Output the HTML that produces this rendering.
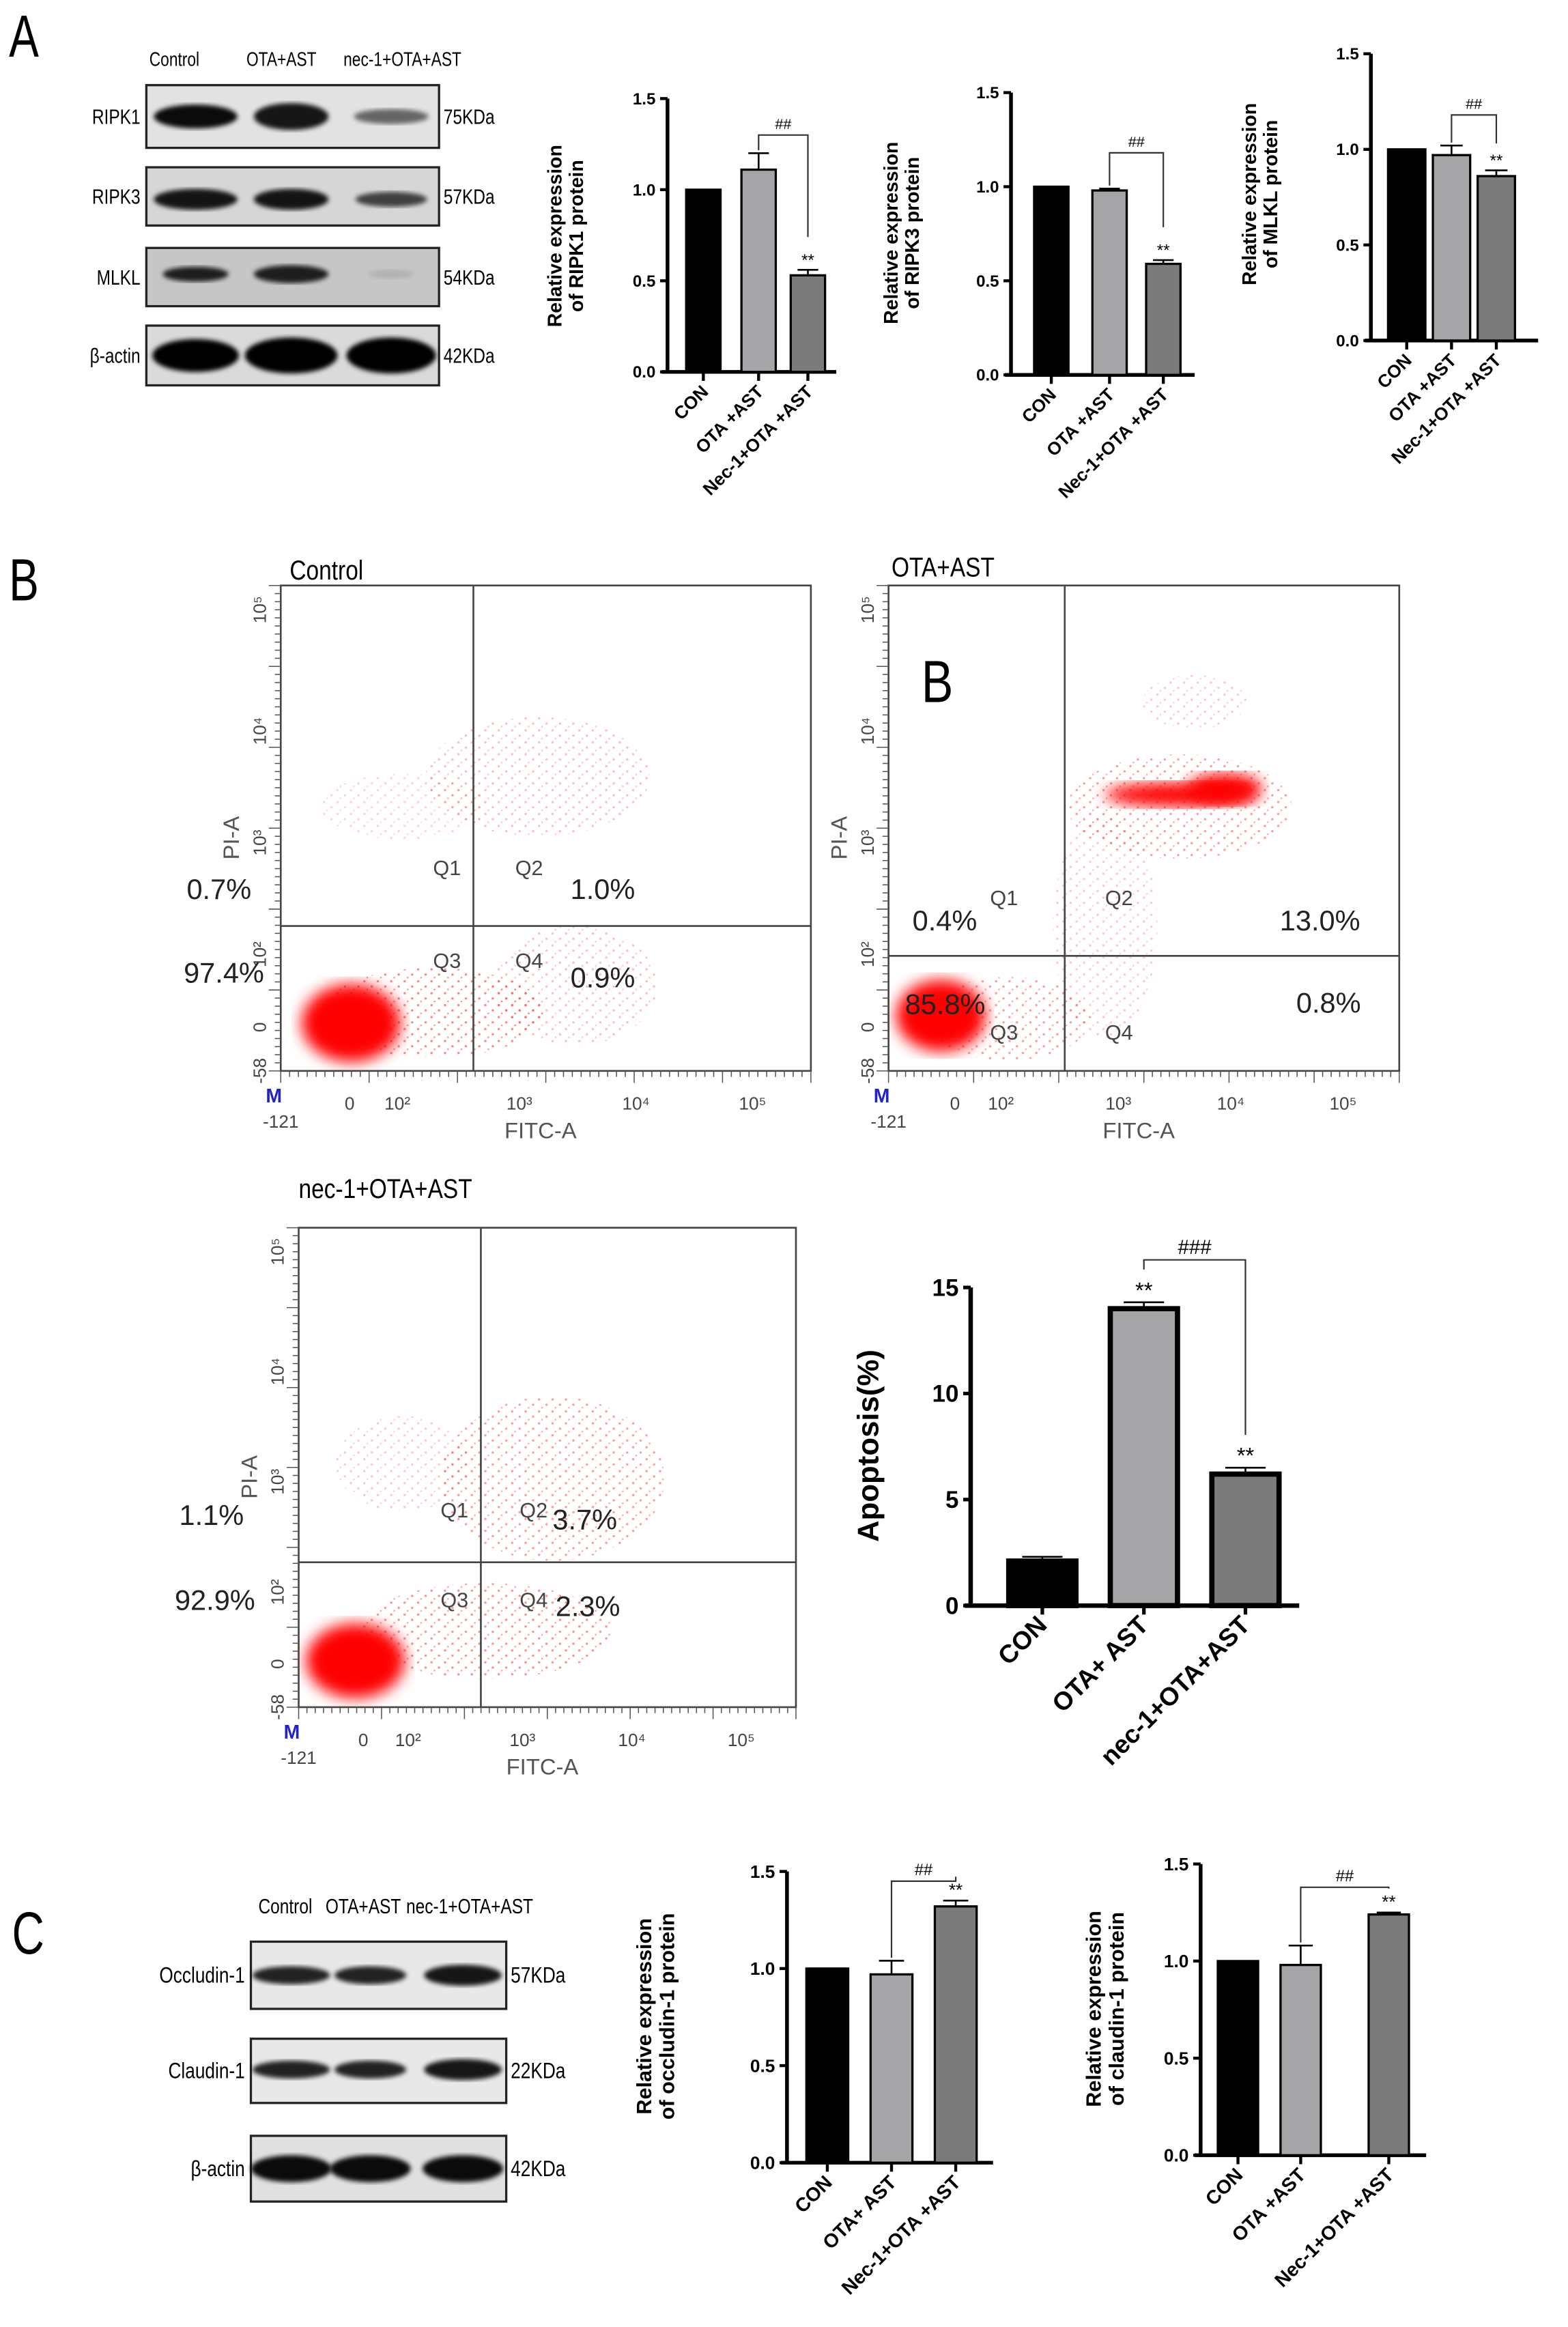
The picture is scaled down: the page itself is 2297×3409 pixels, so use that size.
<!DOCTYPE html>
<html><head><meta charset="utf-8">
<style>
html,body{margin:0;padding:0;background:#fff;}
svg{display:block;}
text{font-family:"Liberation Sans",sans-serif;}
</style></head>
<body>
<svg id="fig" xmlns="http://www.w3.org/2000/svg" width="2297" height="3409" viewBox="0 0 1050 1558" preserveAspectRatio="none">
<defs>
<pattern id="dots" width="9" height="8" patternUnits="userSpaceOnUse">
<circle cx="1" cy="1" r="0.8" fill="#f22"/><circle cx="6" cy="4.5" r="0.8" fill="#f22"/><circle cx="3" cy="6.5" r="0.6" fill="#f44"/>
</pattern>
<filter id="blur1"><feGaussianBlur stdDeviation="5"/></filter>
<filter id="blur2"><feGaussianBlur stdDeviation="1.6"/></filter>
</defs>
<g id="root"></g>
</svg>
<script>
// ---------- data ----------
const catsA = ["CON", "OTA +AST", "Nec-1+OTA +AST"];
const ripk1Vals = [1.0, 1.11, 0.53];
const ripk1Errs = [0, 0.09, 0.03];
const ripk3Vals = [1.0, 0.98, 0.59];
const ripk3Errs = [0, 0.01, 0.02];
const mlklVals = [1.0, 0.97, 0.86];
const mlklErrs = [0, 0.05, 0.03];
const ticksA = [0, 0.5, 1.0, 1.5];
const tickLabelsA = ["0.0", "0.5", "1.0", "1.5"];
const catsApop = ["CON", "OTA+ AST", "nec-1+OTA+AST"];
const apopVals = [2.1, 14.0, 6.2];
const apopErrs = [0.2, 0.3, 0.3];
const ticksApop = [0, 5, 10, 15];
const tickLabelsApop = ["0", "5", "10", "15"];
const catsOcc = ["CON", "OTA+ AST", "Nec-1+OTA +AST"];
const occVals = [1.0, 0.97, 1.32];
const occErrs = [0, 0.07, 0.03];
const catsCla = ["CON", "OTA +AST", "Nec-1+OTA +AST"];
const claVals = [1.0, 0.98, 1.24];
const claErrs = [0, 0.1, 0.01];
const barColors = ["#000", "#a5a5a8", "#7b7b7b"];

const NS = "http://www.w3.org/2000/svg";
const root = document.getElementById("root");
function el(tag, attrs, parent, txt) {
  const e = document.createElementNS(NS, tag);
  for (const k in attrs) e.setAttribute(k, attrs[k]);
  if (txt !== undefined) e.textContent = txt;
  (parent || root).appendChild(e);
  return e;
}

// ---------- bar charts ----------
function barChart(o, cats, vals, errs, ticks, tickLabels) {
  const g = el("g", {});
  
  
  const y = v => o.y0 - v / o.max * (o.y0 - o.yTop);
  el("line", {x1: o.ax, y1: o.yTop, x2: o.ax, y2: o.y0, stroke: "#000", "stroke-width": o.lw}, g);
  el("line", {x1: o.ax - 4, y1: o.y0, x2: o.xEnd, y2: o.y0, stroke: "#000", "stroke-width": o.lw}, g);
  ticks.forEach((t, i) => {
    el("line", {x1: o.ax - 5, y1: y(t), x2: o.ax, y2: y(t), stroke: "#000", "stroke-width": o.lw * 0.8}, g);
    const tl = el("text", {x: o.ax - 8, y: y(t) + o.fs * 0.35, "font-size": o.fs, "font-weight": "bold", "text-anchor": "end"}, g, tickLabels[i]);
    
    
  });
  const tt = el("text", {transform: `translate(${o.titleX},${o.titleY}) rotate(-90)`, "font-size": o.tfs, "font-weight": "bold", "text-anchor": "middle"}, g);
  
  
  o.title.forEach((ln, i) => el("tspan", {x: 0, dy: i === 0 ? 0 : o.tfs * 1.1}, tt, ln));
  vals.forEach((v, i) => {
    const cx = o.cx[i];
    const r = el("rect", {x: cx - o.bw / 2, y: y(v), width: o.bw, height: o.y0 - y(v), fill: barColors[i], stroke: "#000", "stroke-width": o.bs}, g);
    
    
    if (errs[i] > 0) {
      el("line", {x1: cx, y1: y(v), x2: cx, y2: y(v + errs[i]), stroke: "#000", "stroke-width": 1.2}, g);
      el("line", {x1: cx - o.bw * 0.3, y1: y(v + errs[i]), x2: cx + o.bw * 0.3, y2: y(v + errs[i]), stroke: "#000", "stroke-width": 1.2}, g);
    }
    el("line", {x1: cx, y1: o.y0, x2: cx, y2: o.y0 + 6, stroke: "#000", "stroke-width": o.lw * 0.8}, g);
    const cl = el("text", {transform: `translate(${cx + 4},${o.y0 + 14}) rotate(-45)`, "font-size": o.cfs, "font-weight": "bold", "text-anchor": "end"}, g, cats[i]);
    
    
    if (o.stars[i]) {
      el("text", {x: cx, y: y(v + errs[i]) - 3, "font-size": o.sfs, "text-anchor": "middle"}, g, "**");
    }
  });
  const [a, b] = o.bracket;
  const ya = y(vals[a] + errs[a]) - o.bGap[0], yb = y(vals[b] + errs[b]) - o.bGap[1];
  const top = y(o.bTop);
  el("polyline", {points: `${o.cx[a]},${ya} ${o.cx[a]},${top} ${o.cx[b]},${top} ${o.cx[b]},${yb}`, fill: "none", stroke: "#333", "stroke-width": 1}, g);
  el("text", {x: (o.cx[a] + o.cx[b]) / 2, y: top - 4, "font-size": o.sfs * 0.9, "text-anchor": "middle"}, g, o.hash);
}

barChart({name: "ripk1-chart", ax: 447, y0: 249, yTop: 66, max: 1.5, xEnd: 560, cx: [471, 508, 541], bw: 23, lw: 2.5, bs: 1.5, fs: 11, tfs: 13, cfs: 12, sfs: 11,
  title: ["Relative expression", "of RIPK1 protein"], titleX: 376, titleY: 158, stars: [0, 0, 1], bracket: [1, 2], bTop: 1.3, bGap: [2, 22], hash: "##"},
  catsA, ripk1Vals, ripk1Errs, ticksA, tickLabelsA);
barChart({name: "ripk3-chart", ax: 677, y0: 251, yTop: 62, max: 1.5, xEnd: 800, cx: [704, 743, 779], bw: 23, lw: 2.5, bs: 1.5, fs: 11, tfs: 13, cfs: 12, sfs: 11,
  title: ["Relative expression", "of RIPK3 protein"], titleX: 601, titleY: 156, stars: [0, 0, 1], bracket: [1, 2], bTop: 1.18, bGap: [2, 22], hash: "##"},
  catsA, ripk3Vals, ripk3Errs, ticksA, tickLabelsA);
barChart({name: "mlkl-chart", ax: 918, y0: 228, yTop: 36, max: 1.5, xEnd: 1030, cx: [942, 972, 1002], bw: 25, lw: 2.5, bs: 1.5, fs: 11, tfs: 13, cfs: 12, sfs: 11,
  title: ["Relative expression", "of MLKL protein"], titleX: 841, titleY: 130, stars: [0, 0, 1], bracket: [1, 2], bTop: 1.18, bGap: [2, 18], hash: "##"},
  catsA, mlklVals, mlklErrs, ticksA, tickLabelsA);
barChart({name: "apoptosis-chart", ax: 650, y0: 1075, yTop: 862, max: 15, xEnd: 870, cx: [698, 766, 834], bw: 45, lw: 3, bs: 3.5, fs: 16, tfs: 20, cfs: 17, sfs: 15,
  title: ["Apoptosis(%)"], titleX: 588, titleY: 968, stars: [0, 1, 1], bracket: [1, 2], bTop: 16.3, bGap: [22, 22], hash: "###"},
  catsApop, apopVals, apopErrs, ticksApop, tickLabelsApop);
barChart({name: "occludin-chart", ax: 527, y0: 1448, yTop: 1253, max: 1.5, xEnd: 665, cx: [554, 597, 640], bw: 28, lw: 2.5, bs: 1.5, fs: 12, tfs: 14, cfs: 13, sfs: 12,
  title: ["Relative expression", "of occludin-1 protein"], titleX: 436, titleY: 1350, stars: [0, 0, 1], bracket: [1, 2], bTop: 1.45, bGap: [2, 16], hash: "##"},
  catsOcc, occVals, occErrs, ticksA, tickLabelsA);
barChart({name: "claudin-chart", ax: 804, y0: 1443, yTop: 1248, max: 1.5, xEnd: 955, cx: [829, 871, 930], bw: 27, lw: 2.5, bs: 1.5, fs: 12, tfs: 14, cfs: 13, sfs: 12,
  title: ["Relative expression", "of claudin-1 protein"], titleX: 737, titleY: 1345, stars: [0, 0, 1], bracket: [1, 2], bTop: 1.38, bGap: [2, 16], hash: "##"},
  catsCla, claVals, claErrs, ticksA, tickLabelsA);

// ---------- panel letters ----------
[["A", 6, 38], ["B", 6, 402], ["C", 8, 1308]].forEach(p => {
  const t = el("text", {x: p[1], y: p[2], "font-size": 40, transform: `translate(${p[1]},0) scale(0.75,1) translate(${-p[1]},0)`}, root, p[0]);
  
  
});

// ---------- western blots ----------
function blot(name, x, w, rows, header, hx, hy, fs, lanes) {
  const g = el("g", {});
  
  
  header.forEach((h, i) => el("text", {x: hx[i], y: hy, "font-size": fs, transform: `translate(${hx[i]},0) scale(0.8,1) translate(${-hx[i]},0)`}, g, h));
  rows.forEach(r => {
    el("rect", {x: x, y: r.y, width: w, height: r.h, fill: r.bg, stroke: "#222", "stroke-width": 1.5}, g);
    lanes.forEach((lx, i) => {
      el("ellipse", {cx: lx, cy: r.y + r.h * r.by, rx: r.rx[i], ry: r.ry[i], fill: "#000", opacity: r.op[i], filter: "url(#blur2)"}, g);
    });
    el("text", {x: x - 4, y: r.y + r.h / 2 + 5, "font-size": fs + 1, "text-anchor": "end", transform: `translate(${x - 4},0) scale(0.8,1) translate(${-(x - 4)},0)`}, g, r.label);
    el("text", {x: x + w + 3, y: r.y + r.h / 2 + 5, "font-size": fs + 1, transform: `translate(${x + w + 3},0) scale(0.8,1) translate(${-(x + w + 3)},0)`}, g, r.kda);
  });
}
blot("blot-panel-a", 98, 196, [
  {y: 57, h: 42, bg: "#e2e2e2", label: "RIPK1", kda: "75KDa", by: 0.5, rx: [28, 25, 25], ry: [8, 9, 5], op: [0.95, 0.9, 0.55]},
  {y: 112, h: 39, bg: "#d6d6d6", label: "RIPK3", kda: "57KDa", by: 0.55, rx: [28, 25, 24], ry: [7, 7, 5], op: [0.9, 0.9, 0.7]},
  {y: 166, h: 39, bg: "#c6c6c6", label: "MLKL", kda: "54KDa", by: 0.45, rx: [22, 25, 15], ry: [5, 6, 3], op: [0.85, 0.85, 0.1]},
  {y: 218, h: 40, bg: "#dadada", label: "β-actin", kda: "42KDa", by: 0.5, rx: [29, 31, 30], ry: [11, 12, 12], op: [1, 1, 1]}
], ["Control", "OTA+AST", "nec-1+OTA+AST"], [100, 165, 230], 44, 13, [131, 195, 262]);
blot("blot-panel-c", 168, 171, [
  {y: 1300, h: 45, bg: "#e8e8e8", label: "Occludin-1", kda: "57KDa", by: 0.5, rx: [26, 24, 26], ry: [6, 6, 7], op: [0.85, 0.85, 0.9]},
  {y: 1365, h: 43, bg: "#e8e8e8", label: "Claudin-1", kda: "22KDa", by: 0.48, rx: [26, 24, 26], ry: [6, 6, 7], op: [0.85, 0.85, 0.9]},
  {y: 1430, h: 44, bg: "#e0e0e0", label: "β-actin", kda: "42KDa", by: 0.5, rx: [27, 27, 27], ry: [9, 9, 9], op: [0.95, 0.95, 0.95]}
], ["Control", "OTA+AST", "nec-1+OTA+AST"], [173, 218, 272], 1281, 14, [195, 248, 310]);

// ---------- flow cytometry ----------
const yTickLbl = ["10⁵", "10⁴", "10³", "10²", "0", "-58"];
const yTickFr = [0.05, 0.3, 0.53, 0.76, 0.91, 1.0];
const xTickLbl = ["-121", "0", "10²", "10³", "10⁴", "10⁵"];
const xTickFr = [0, 0.13, 0.22, 0.45, 0.67, 0.89];
function flow(o) {
  const g = el("g", {});
  
  
  const W = o.x2 - o.x1, H = o.y2 - o.y1;
  el("text", {x: o.tx, y: o.ty, "font-size": 18, transform: `translate(${o.tx},0) scale(0.85,1) translate(${-o.tx},0)`}, g, o.title);
  o.clouds.forEach(c => el("ellipse", {cx: c[0], cy: c[1], rx: c[2], ry: c[3], fill: "url(#dots)", opacity: c[4]}, g));
  o.blobs.forEach(c => el("ellipse", {cx: c[0], cy: c[1], rx: c[2], ry: c[3], fill: "#f00", filter: "url(#blur1)"}, g));
  el("rect", {x: o.x1, y: o.y1, width: W, height: H, fill: "none", stroke: "#444", "stroke-width": 1.2}, g);
  el("line", {x1: o.vx, y1: o.y1, x2: o.vx, y2: o.y2, stroke: "#444", "stroke-width": 1.2}, g);
  el("line", {x1: o.x1, y1: o.hy, x2: o.x2, y2: o.hy, stroke: "#444", "stroke-width": 1.2}, g);
  for (let i = 0; i <= 60; i++) {
    const yy = o.y1 + H * i / 60;
    el("line", {x1: o.x1 - (i % 10 === 0 ? 8 : 4), y1: yy, x2: o.x1, y2: yy, stroke: "#555", "stroke-width": 0.7}, g);
    const xx = o.x1 + W * i / 60;
    el("line", {x1: xx, y1: o.y2, x2: xx, y2: o.y2 + (i % 10 === 0 ? 8 : 4), stroke: "#555", "stroke-width": 0.7}, g);
  }
  yTickLbl.forEach((t, i) => el("text", {transform: `translate(${o.x1 - 10},${o.y1 + H * yTickFr[i]}) rotate(-90)`, "font-size": 12, "text-anchor": "middle", fill: "#444"}, g, t));
  xTickLbl.forEach((t, i) => el("text", {x: o.x1 + W * xTickFr[i], y: o.y2 + (i === 0 ? 38 : 26), "font-size": 12, "text-anchor": "middle", fill: "#444"}, g, t));
  el("text", {x: o.x1 + W * 0.49, y: o.y2 + 45, "font-size": 15, "text-anchor": "middle", fill: "#555"}, g, "FITC-A");
  el("text", {transform: `translate(${o.x1 - 28},${o.y1 + H * 0.52}) rotate(-90)`, "font-size": 15, "text-anchor": "middle", fill: "#555"}, g, "PI-A");
  el("text", {x: o.x1 - 10, y: o.y2 + 21, "font-size": 13, "font-weight": "bold", fill: "#22c"}, g, "M");
  o.q.forEach(q => el("text", {x: q[1], y: q[2], "font-size": 14, fill: "#444"}, g, q[0]));
  o.pct.forEach(p => {
    const t = el("text", {x: p[1], y: p[2], "font-size": 19, fill: "#222"}, g, p[0]);
    
    
  });
}
flow({name: "flow-control", x1: 188, y1: 392, x2: 543, y2: 717, vx: 317, hy: 620, title: "Control", tx: 194, ty: 388,
  clouds: [[360, 520, 75, 40, 0.3], [270, 540, 55, 22, 0.2], [290, 678, 75, 30, 0.55], [385, 660, 55, 40, 0.3]],
  blobs: [[235, 685, 33, 26]],
  q: [["Q1", 290, 586], ["Q2", 345, 586], ["Q3", 290, 648], ["Q4", 345, 648]],
  pct: [["0.7%", 125, 602], ["97.4%", 123, 658], ["1.0%", 382, 602], ["0.9%", 382, 661]]});
flow({name: "flow-ota-ast", x1: 595, y1: 392, x2: 937, y2: 717, vx: 713, hy: 640, title: "OTA+AST", tx: 597, ty: 386,
  clouds: [[790, 540, 75, 35, 0.45], [740, 620, 35, 75, 0.25], [675, 682, 55, 28, 0.45], [800, 470, 35, 18, 0.25]],
  blobs: [[630, 680, 30, 24], [790, 532, 50, 8], [820, 528, 25, 10]],
  q: [["Q1", 663, 606], ["Q2", 740, 606], ["Q3", 663, 696], ["Q4", 740, 696]],
  pct: [["0.4%", 611, 623], ["85.8%", 606, 679], ["13.0%", 857, 623], ["0.8%", 868, 678]]});
el("text", {x: 617, y: 470, "font-size": 40, transform: "translate(617,0) scale(0.8,1) translate(-617,0)"}, root, "B");
flow({name: "flow-nec1-ota-ast", x1: 200, y1: 822, x2: 533, y2: 1143, vx: 322, hy: 1046, title: "nec-1+OTA+AST", tx: 200, ty: 802,
  clouds: [[370, 990, 75, 55, 0.45], [270, 980, 45, 32, 0.25], [325, 1092, 85, 32, 0.5]],
  blobs: [[238, 1112, 33, 25]],
  q: [["Q1", 295, 1016], ["Q2", 348, 1016], ["Q3", 295, 1076], ["Q4", 348, 1076]],
  pct: [["1.1%", 120, 1021], ["92.9%", 117, 1078], ["3.7%", 370, 1024], ["2.3%", 372, 1082]]});
</script>
</body></html>
